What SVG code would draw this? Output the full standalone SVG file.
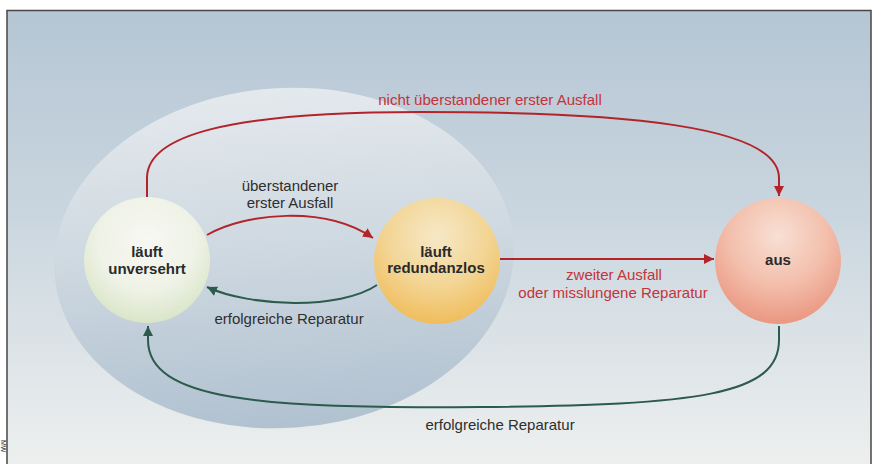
<svg xmlns="http://www.w3.org/2000/svg" width="876" height="464" viewBox="0 0 876 464">
  <defs>
    <linearGradient id="bg" x1="0" y1="0" x2="0" y2="1">
      <stop offset="0" stop-color="#b5c6d4"/>
      <stop offset="0.45" stop-color="#cad6df"/>
      <stop offset="1" stop-color="#eef0ef"/>
    </linearGradient>
    <linearGradient id="zone" x1="0" y1="0" x2="0" y2="1">
      <stop offset="0" stop-color="#e4e9ed"/>
      <stop offset="0.45" stop-color="#cfd9e1"/>
      <stop offset="1" stop-color="#b0c1d0"/>
    </linearGradient>
    <radialGradient id="gOk" cx="0.5" cy="0.35" r="0.65">
      <stop offset="0" stop-color="#f7f8f3"/>
      <stop offset="0.6" stop-color="#eff2e6"/>
      <stop offset="1" stop-color="#d9e5c8"/>
    </radialGradient>
    <radialGradient id="gRed" cx="0.5" cy="0.3" r="0.7">
      <stop offset="0" stop-color="#f6e8c6"/>
      <stop offset="0.55" stop-color="#f3d697"/>
      <stop offset="1" stop-color="#f0bd5c"/>
    </radialGradient>
    <radialGradient id="gOff" cx="0.5" cy="0.3" r="0.7">
      <stop offset="0" stop-color="#f8e0d4"/>
      <stop offset="0.55" stop-color="#f3bfac"/>
      <stop offset="1" stop-color="#ea9781"/>
    </radialGradient>
    <marker id="ahRed" viewBox="0 0 10 10" refX="10" refY="5" markerWidth="10" markerHeight="10" markerUnits="userSpaceOnUse" orient="auto">
      <path d="M0,0 L10,5 L0,10 z" fill="#b3232a"/>
    </marker>
    <marker id="ahGreen" viewBox="0 0 10 10" refX="10" refY="5" markerWidth="10" markerHeight="10" markerUnits="userSpaceOnUse" orient="auto">
      <path d="M0,0 L10,5 L0,10 z" fill="#2c5a4c"/>
    </marker>
    <style>
      .lbl { font-family: "Liberation Sans", Arial, sans-serif; font-size: 15px; text-anchor: middle; }
      .red { fill: #c4333a; }
      .dark { fill: #2e2e2e; }
      .node { font-family: "Liberation Sans", Arial, sans-serif; font-size: 15px; font-weight: bold; text-anchor: middle; fill: #2a2a2a; }
      .eRed { fill: none; stroke: #b3232a; stroke-width: 2; marker-end: url(#ahRed); }
      .eGreen { fill: none; stroke: #2c5a4c; stroke-width: 2; marker-end: url(#ahGreen); }
    </style>
  </defs>

  <!-- panel -->
  <rect x="7" y="10" width="864" height="460" fill="url(#bg)"/>
  <path d="M7,470 V10.5 H871 V470" fill="none" stroke="#4a4546" stroke-width="1.5"/>
  <text x="0" y="0" transform="translate(1,440) rotate(90)" font-family="Liberation Sans, Arial, sans-serif" font-size="7" fill="#333">MW</text>

  <!-- operating zone -->
  <ellipse cx="284" cy="258" rx="230" ry="170" fill="url(#zone)" transform="rotate(-4 284 258)"/>

  <!-- connectors -->
  <g id="connectors">
    <path class="eRed" d="M147,197 V178 C147,135 230,112 420,112 C620,112 779,125 779,178 V196"/>
    <path class="eRed" d="M207,235 C245,213 325,205 373,238"/>
    <path class="eGreen" d="M377,285 C340,310 250,307 207,287"/>
    <path class="eRed" d="M500,259 H714"/>
    <path class="eGreen" d="M779,326 V340 C779,395 700,405 480,407 C260,409 148,400 148,340 V326"/>

    <text class="lbl red" x="490" y="105">nicht überstandener erster Ausfall</text>
    <text class="lbl dark" x="290" y="191">überstandener</text>
    <text class="lbl dark" x="290" y="208">erster Ausfall</text>
    <text class="lbl dark" x="289" y="324">erfolgreiche Reparatur</text>
    <text class="lbl red" x="614" y="280">zweiter Ausfall</text>
    <text class="lbl red" x="613" y="298">oder misslungene Reparatur</text>
    <text class="lbl dark" x="500" y="430">erfolgreiche Reparatur</text>
  </g>

  <!-- states -->
  <g id="node-unversehrt">
    <circle cx="147" cy="260" r="63" fill="url(#gOk)"/>
    <text class="node" x="147" y="257">läuft</text>
    <text class="node" x="147" y="274">unversehrt</text>
  </g>
  <g id="node-redundanzlos">
    <circle cx="437" cy="261" r="63" fill="url(#gRed)"/>
    <text class="node" x="436" y="257">läuft</text>
    <text class="node" x="436" y="273">redundanzlos</text>
  </g>
  <g id="node-aus">
    <circle cx="778" cy="261" r="63" fill="url(#gOff)"/>
    <text class="node" x="778" y="265">aus</text>
  </g>
</svg>
